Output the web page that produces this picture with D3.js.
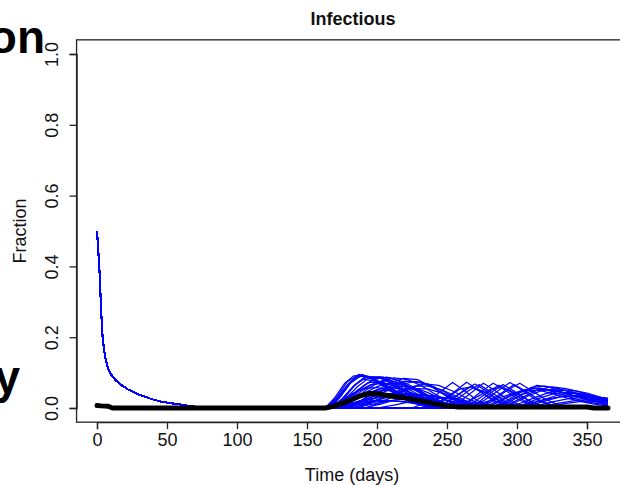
<!DOCTYPE html>
<html><head><meta charset="utf-8">
<script src="https://cdn.jsdelivr.net/npm/d3@7/dist/d3.min.js"></script>
<style>
html,body{margin:0;padding:0;background:#fff;overflow:hidden;}
svg{display:block;font-family:"Liberation Sans",Arial,sans-serif;}
</style></head>
<body>
<svg id="chart" width="620" height="485"></svg>
<script>
// ---------- data ----------
const title = "Infectious";
const xLabel = "Time (days)";
const yLabel = "Fraction";
const xTicks = [0, 50, 100, 150, 200, 250, 300, 350];
const yTicks = [0.0, 0.2, 0.4, 0.6, 0.8, 1.0];
const yTickLabels = ["0.0", "0.2", "0.4", "0.6", "0.8", "1.0"];
const xMax = 365;

// shared early phase of every simulated run (all runs overlap here)
const earlyPhase = [[0,0.5],[1,0.44],[2,0.37],[3,0.27],[4,0.2],[5,0.165],[6,0.14],[8,0.11],[10,0.095],
  [13,0.08],[17,0.066],[22,0.053],[28,0.041],[34,0.032],[40,0.024],[46,0.018],[52,0.014],[58,0.011],
  [65,0.006],[75,0.002],[90,0]];

// later outbreak phase of each simulated run: [day, fraction]
const runs = [
  [[165,0],[172,0.03],[180,0.07],[187,0.095],[195,0.085],[205,0.06],[215,0.035],[225,0.015],[235,0.004],[245,0]],
  [[166,0],[174,0.035],[182,0.075],[189,0.093],[198,0.08],[210,0.05],[222,0.025],[232,0.01],[242,0]],
  [[168,0],[176,0.03],[184,0.065],[192,0.09],[202,0.085],[212,0.065],[222,0.04],[232,0.02],[245,0.005],[255,0]],
  [[164,0],[171,0.025],[178,0.06],[185,0.088],[193,0.09],[203,0.07],[214,0.045],[226,0.02],[238,0.006],[248,0]],
  [[170,0],[178,0.028],[186,0.06],[194,0.085],[204,0.088],[214,0.072],[224,0.05],[234,0.028],[246,0.01],[258,0]],
  [[172,0],[180,0.025],[188,0.055],[197,0.08],[207,0.087],[218,0.075],[228,0.055],[238,0.032],[250,0.012],[262,0]],
  [[175,0],[184,0.025],[192,0.05],[202,0.075],[212,0.085],[222,0.08],[232,0.062],[242,0.038],[253,0.015],[265,0]],
  [[178,0],[188,0.02],[198,0.045],[208,0.068],[219,0.084],[229,0.08],[239,0.06],[249,0.035],[260,0.012],[270,0]],
  [[166,0],[175,0.02],[185,0.045],[195,0.065],[205,0.07],[215,0.06],[225,0.04],[236,0.02],[248,0.005],[258,0]],
  [[170,0],[180,0.015],[190,0.035],[200,0.052],[210,0.058],[220,0.05],[230,0.035],[240,0.018],[252,0.005],[262,0]],
  [[174,0],[185,0.012],[196,0.025],[207,0.035],[218,0.038],[229,0.032],[240,0.02],[250,0.008],[260,0]],
  [[168,0],[178,0.01],[190,0.022],[202,0.03],[214,0.028],[226,0.02],[238,0.01],[248,0]],
  [[180,0],[190,0.018],[200,0.04],[210,0.062],[220,0.076],[230,0.074],[240,0.058],[250,0.036],[260,0.016],[272,0]],
  [[185,0],[195,0.02],[205,0.045],[215,0.065],[226,0.074],[236,0.068],[246,0.05],[256,0.028],[266,0.01],[276,0]],
  [[163,0],[170,0.03],[177,0.07],[183,0.09],[190,0.094],[199,0.078],[210,0.052],[220,0.03],[230,0.012],[240,0]],
  [[225,0],[235,0.015],[245,0.045],[254,0.072],[262,0.05],[272,0.02],[282,0.005],[290,0]],
  [[235,0],[245,0.015],[255,0.045],[264,0.073],[272,0.052],[282,0.022],[292,0.006],[300,0]],
  [[240,0],[252,0.02],[262,0.05],[270,0.068],[278,0.048],[288,0.02],[298,0.005],[306,0]],
  [[248,0],[258,0.015],[268,0.045],[276,0.07],[284,0.05],[294,0.022],[304,0.006],[312,0]],
  [[255,0],[265,0.018],[275,0.048],[283,0.07],[291,0.052],[301,0.024],[311,0.007],[320,0]],
  [[262,0],[272,0.015],[282,0.045],[290,0.066],[298,0.048],[308,0.022],[318,0.006],[326,0]],
  [[265,0],[276,0.02],[287,0.05],[295,0.072],[303,0.052],[313,0.025],[323,0.008],[332,0]],
  [[272,0],[282,0.018],[293,0.05],[302,0.07],[310,0.05],[320,0.025],[330,0.008],[340,0]],
  [[230,0],[242,0.012],[252,0.035],[260,0.055],[268,0.06],[277,0.045],[287,0.02],[297,0.005],[305,0]],
  [[250,0],[262,0.012],[273,0.035],[282,0.055],[290,0.058],[299,0.042],[309,0.02],[319,0.005],[328,0]],
  [[280,0],[290,0.015],[300,0.038],[310,0.058],[320,0.062],[330,0.055],[340,0.042],[350,0.03],[360,0.02],[365,0.016]],
  [[285,0],[295,0.012],[305,0.032],[315,0.052],[325,0.06],[335,0.055],[345,0.045],[355,0.032],[365,0.022]],
  [[275,0],[286,0.015],[296,0.035],[306,0.052],[316,0.056],[326,0.05],[336,0.04],[346,0.03],[356,0.02],[365,0.013]],
  [[290,0],[300,0.01],[310,0.025],[320,0.04],[330,0.05],[340,0.05],[350,0.042],[360,0.03],[365,0.025]],
  [[270,0],[282,0.012],[292,0.03],[302,0.048],[312,0.056],[322,0.05],[332,0.038],[342,0.026],[352,0.016],[365,0.008]],
  [[295,0],[306,0.012],[316,0.028],[326,0.04],[336,0.045],[346,0.04],[356,0.032],[365,0.026]],
  [[300,0],[312,0.01],[322,0.022],[332,0.032],[342,0.036],[352,0.034],[360,0.03],[365,0.028]],
  [[260,0],[272,0.01],[284,0.025],[296,0.04],[306,0.05],[316,0.05],[326,0.04],[336,0.028],[346,0.018],[356,0.01],[365,0.006]],
  [[305,0],[316,0.008],[326,0.018],[336,0.026],[346,0.03],[356,0.028],[365,0.025]],
  [[310,0],[320,0.006],[330,0.014],[340,0.02],[350,0.024],[358,0.024],[365,0.022]],
  [[284,0],[296,0.02],[306,0.045],[314,0.064],[322,0.06],[332,0.046],[342,0.032],[352,0.02],[362,0.012],[365,0.01]],
  [[172,0],[184,0.008],[196,0.016],[208,0.02],[220,0.018],[232,0.012],[244,0.005],[254,0]],
  [[190,0],[202,0.01],[214,0.024],[226,0.034],[238,0.036],[250,0.028],[262,0.016],[274,0.006],[284,0]],
  [[167,0],[175,0.025],[183,0.06],[190,0.082],[199,0.075],[209,0.055],[219,0.033],[229,0.015],[240,0.004],[250,0]],
  [[169,0],[177,0.02],[186,0.05],[194,0.072],[203,0.074],[213,0.06],[223,0.04],[233,0.02],[244,0.006],[254,0]],
  [[171,0],[180,0.02],[189,0.048],[198,0.07],[208,0.078],[218,0.068],[228,0.048],[238,0.026],[249,0.009],[260,0]],
  [[173,0],[182,0.018],[191,0.042],[201,0.062],[211,0.07],[221,0.064],[231,0.047],[241,0.027],[252,0.01],[262,0]],
  [[176,0],[186,0.016],[196,0.036],[206,0.054],[216,0.062],[226,0.058],[236,0.044],[246,0.026],[257,0.01],[267,0]],
  [[165,0],[173,0.018],[182,0.04],[191,0.055],[200,0.058],[210,0.048],[220,0.032],[230,0.016],[241,0.005],[250,0]],
  [[168,0],[177,0.014],[187,0.032],[197,0.046],[207,0.05],[217,0.044],[227,0.031],[237,0.017],[248,0.006],[258,0]],
  [[171,0],[181,0.01],[192,0.026],[203,0.038],[214,0.043],[225,0.04],[236,0.029],[247,0.016],[258,0.005],[268,0]],
  [[177,0],[188,0.01],[199,0.022],[210,0.033],[221,0.04],[232,0.038],[243,0.03],[254,0.018],[265,0.007],[275,0]],
  [[182,0],[193,0.012],[204,0.028],[215,0.045],[226,0.055],[236,0.054],[246,0.043],[256,0.027],[266,0.012],[276,0]],
  [[164,0],[172,0.035],[179,0.075],[186,0.092],[194,0.088],[204,0.066],[214,0.042],[224,0.022],[234,0.008],[244,0]],
  [[167,0],[174,0.032],[181,0.07],[188,0.09],[196,0.086],[206,0.066],[216,0.044],[226,0.023],[237,0.008],[247,0]],
  [[170,0],[177,0.03],[185,0.068],[193,0.088],[202,0.088],[212,0.07],[222,0.048],[232,0.026],[243,0.009],[253,0]],
  [[174,0],[182,0.028],[190,0.062],[199,0.084],[209,0.086],[219,0.07],[229,0.048],[239,0.027],[250,0.01],[260,0]],
  [[186,0],[196,0.014],[206,0.032],[216,0.05],[227,0.062],[237,0.062],[247,0.05],[257,0.032],[267,0.014],[277,0]],
  [[192,0],[203,0.016],[214,0.038],[224,0.058],[234,0.068],[244,0.064],[254,0.048],[264,0.028],[274,0.011],[284,0]],
  [[179,0],[190,0.006],[201,0.014],[212,0.022],[223,0.026],[234,0.024],[245,0.017],[256,0.009],[266,0.003],[275,0]],
  [[166,0],[176,0.006],[186,0.014],[196,0.02],[206,0.022],[216,0.019],[226,0.013],[236,0.007],[246,0]],
  [[200,0],[212,0.008],[224,0.018],[236,0.026],[248,0.028],[260,0.022],[272,0.013],[284,0.005],[294,0]],
  [[244,0],[255,0.018],[265,0.048],[273,0.066],[281,0.046],[291,0.02],[301,0.005],[309,0]],
  [[258,0],[269,0.016],[279,0.044],[287,0.064],[295,0.047],[305,0.021],[315,0.006],[324,0]],
  [[268,0],[279,0.016],[290,0.045],[298,0.066],[306,0.048],[316,0.023],[326,0.007],[335,0]],
  [[238,0],[249,0.014],[259,0.04],[267,0.06],[275,0.044],[285,0.019],[295,0.005],[303,0]],
  [[288,0],[298,0.014],[308,0.034],[318,0.05],[328,0.054],[338,0.048],[348,0.036],[358,0.025],[365,0.019]],
  [[278,0],[289,0.012],[299,0.03],[309,0.046],[319,0.052],[329,0.047],[339,0.036],[349,0.025],[359,0.016],[365,0.012]],
  [[298,0],[309,0.01],[319,0.024],[329,0.036],[339,0.042],[349,0.038],[359,0.03],[365,0.025]],
  [[315,0],[325,0.006],[335,0.013],[345,0.018],[355,0.02],[365,0.019]],
  [[292,0],[303,0.008],[314,0.018],[325,0.028],[336,0.034],[347,0.032],[358,0.026],[365,0.022]]
];

// mean trajectory (thick black)
const meanLine = [[0,0.007],[3,0.006],[8,0.005],[11,0],[163,0],[168,0.004],[175,0.013],[182,0.024],
  [188,0.034],[194,0.041],[200,0.04],[210,0.034],[220,0.028],[230,0.021],[240,0.013],[250,0.006],
  [258,0.003],[350,0.003],[355,0],[365,0]];

// slide text fragments visible around the chart
const slideFragments = [{text:"on", x:45, y:53}, {text:"y", x:20, y:393}];

// ---------- drawing ----------
const svg = d3.select("#chart");
const x = d3.scaleLinear().domain([0, 350]).range([97, 587]);
const y = d3.scaleLinear().domain([0, 1]).range([408, 54]);
const pad = 0.04;
const x0 = x(-pad * xMax), x1 = x(xMax * (1 + pad));
const y0 = y(-pad), y1 = y(1 + pad);

// slide text
svg.selectAll("text.frag").data(slideFragments).enter().append("text")
  .attr("class","frag").attr("x", d => d.x).attr("y", d => d.y)
  .attr("text-anchor","end").attr("font-weight","bold").attr("font-size", 46)
  .attr("fill","#000").text(d => d.text);

svg.append("clipPath").attr("id","plotclip").append("rect")
  .attr("x", x0).attr("y", y1).attr("width", x1 - x0).attr("height", y0 - y1);

const line = d3.line().x(d => x(d[0])).y(d => y(d[1]));
const g = svg.append("g").attr("clip-path","url(#plotclip)");

g.selectAll("path.run").data(runs).enter().append("path")
  .attr("class","run")
  .attr("d", r => line(earlyPhase.concat(r)))
  .attr("fill","none").attr("stroke","#0000ff").attr("stroke-width",1.25)
  .attr("stroke-linejoin","round");

g.append("path").attr("d", line(meanLine))
  .attr("fill","none").attr("stroke","#000").attr("stroke-width",5)
  .attr("stroke-linecap","round").attr("stroke-linejoin","round");

// box
svg.append("rect").attr("x", x0).attr("y", y1).attr("width", x1 - x0).attr("height", y0 - y1)
  .attr("fill","none").attr("stroke","#222").attr("stroke-width",1.3);

// x axis (R style)
const xa = svg.append("g").attr("transform", `translate(0,${y0})`)
  .call(d3.axisBottom(x).tickValues(xTicks).tickSize(7).tickPadding(4).tickFormat(d3.format("d")));
xa.select(".domain").attr("stroke","#222").attr("stroke-width",1.3);
xa.selectAll(".tick line").attr("stroke","#222").attr("stroke-width",1.3);
xa.selectAll(".tick text").attr("font-size",18).attr("fill","#111")
  .attr("font-family","'Liberation Sans',Arial,sans-serif");

// y axis (R style: labels parallel to axis)
const ya = svg.append("g").attr("transform", `translate(${x0},0)`)
  .call(d3.axisLeft(y).tickValues(yTicks).tickSize(7).tickFormat((d,i) => yTickLabels[i]));
ya.select(".domain").attr("stroke","#222").attr("stroke-width",1.3);
ya.selectAll(".tick line").attr("stroke","#222").attr("stroke-width",1.3);
ya.selectAll(".tick text")
  .attr("x", null).attr("dy", null)
  .attr("transform", `translate(${52 - x0},0) rotate(-90)`)
  .attr("text-anchor","middle").attr("dy","0.35em")
  .attr("font-size",18).attr("fill","#111")
  .attr("font-family","'Liberation Sans',Arial,sans-serif");

// titles
svg.append("text").attr("x", 353).attr("y", 24.5).attr("text-anchor","middle")
  .attr("font-weight","bold").attr("font-size",18).attr("fill","#111").text(title);
svg.append("text").attr("x", 352).attr("y", 480.5).attr("text-anchor","middle")
  .attr("font-size",18).attr("fill","#111").text(xLabel);
svg.append("text").attr("transform", `translate(20,${(y0 + y1) / 2}) rotate(-90)`)
  .attr("text-anchor","middle").attr("dy","0.35em")
  .attr("font-size",18).attr("fill","#111").text(yLabel);
</script>
</body></html>
